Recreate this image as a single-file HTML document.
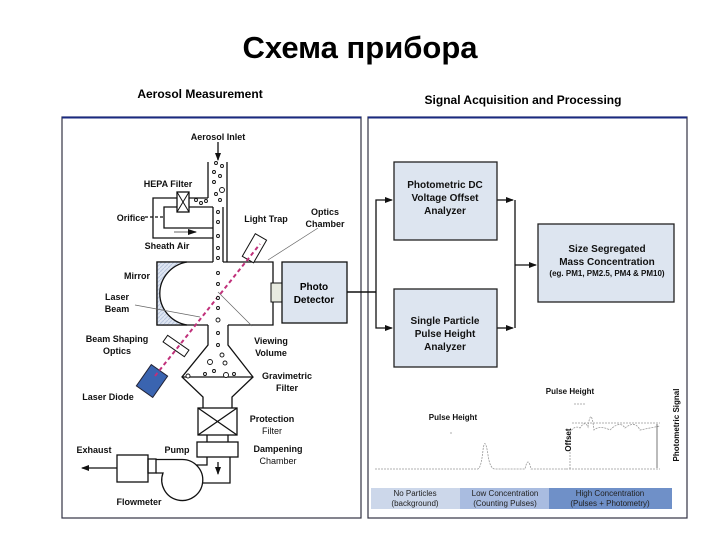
<!DOCTYPE html>
<html><head><meta charset="utf-8"><style>
body{margin:0;background:#fff}
svg{display:block;font-family:"Liberation Sans",Arial,sans-serif}
</style></head><body>
<svg width="720" height="540" viewBox="0 0 720 540" xmlns="http://www.w3.org/2000/svg">
<defs>
<marker id="ar" markerWidth="8" markerHeight="8" refX="7" refY="4" orient="auto" markerUnits="userSpaceOnUse"><path d="M0,1 L8,4 L0,7 z" fill="#111"/></marker>
<pattern id="hatch" width="4" height="4" patternUnits="userSpaceOnUse"><rect width="4" height="4" fill="#dfe6f2"/><path d="M0,4 L4,0" stroke="#b9c6de" stroke-width="1"/></pattern>
</defs>
<text x="360" y="58" font-size="31" font-weight="bold" text-anchor="middle" font-family="'Liberation Sans','DejaVu Sans',sans-serif">Схема прибора</text>
<text x="200" y="98" font-size="12" font-weight="bold" text-anchor="middle">Aerosol Measurement</text>
<text x="523" y="104" font-size="12" font-weight="bold" text-anchor="middle">Signal Acquisition and Processing</text>
<rect x="62" y="117" width="299" height="401" fill="none" stroke="#334" stroke-width="1.2"/>
<line x1="62" y1="117.5" x2="361" y2="117.5" stroke="#1a2a80" stroke-width="2"/>
<rect x="368" y="117" width="319" height="401" fill="none" stroke="#334" stroke-width="1.2"/>
<line x1="368" y1="117.5" x2="687" y2="117.5" stroke="#1a2a80" stroke-width="2"/>

<g fill="none" stroke="#111" stroke-width="1.3">
<line x1="208" y1="162" x2="208" y2="198"/><line x1="227" y1="162" x2="227" y2="262"/>
<line x1="213" y1="207" x2="213" y2="262"/>
<line x1="223" y1="207" x2="223" y2="262"/>
<polyline points="177,198 153,198 153,238 213,238"/>
<polyline points="177,207 164,207 164,228 213,228"/>
<line x1="189" y1="198" x2="208" y2="198"/><line x1="189" y1="207" x2="213" y2="207"/>
<line x1="145" y1="217" x2="164" y2="217" stroke-dasharray="3,2"/>
<polyline points="213,262 157,262 157,325 208,325"/>
<polyline points="223,262 273,262 273,325 228,325"/>
<polyline points="208,325 208,345 182,377 203,397 203,408"/>
<polyline points="228,325 228,345 253,377 232,397 232,408"/>
<line x1="182" y1="377" x2="253" y2="377"/>
<rect x="198" y="408" width="39" height="27"/>
<line x1="198" y1="408" x2="237" y2="435"/><line x1="237" y1="408" x2="198" y2="435"/>
<line x1="207" y1="435" x2="207" y2="442"/><line x1="228" y1="435" x2="228" y2="442"/>
<rect x="197" y="442" width="41" height="15"/>
<polyline points="207,457 207,465 196,465"/>
<polyline points="230,457 230,483 202,483"/>
<path d="M156,459.5 L182,459.5 A20.5,20.5 0 1 1 163,473 L156,473"/>
<rect x="117" y="455" width="31" height="27" fill="#fff"/>
<rect x="148" y="459" width="8" height="14"/>
</g>
<line x1="117" y1="468" x2="82" y2="468" stroke="#111" stroke-width="1.3" marker-end="url(#ar)"/>
<line x1="218" y1="462" x2="218" y2="474" stroke="#111" stroke-width="1.3" marker-end="url(#ar)"/>
<line x1="218" y1="142" x2="218" y2="160" stroke="#111" stroke-width="1.3" marker-end="url(#ar)"/>
<line x1="174" y1="232" x2="196" y2="232" stroke="#999" stroke-width="1.5"/>
<path d="M188,229 L197,232 L188,235z" fill="#111"/>
<rect x="177" y="192" width="12" height="20" fill="#fff" stroke="#111" stroke-width="1.3"/>
<path d="M177,192 L189,212 M189,192 L177,212" stroke="#111"/>
<path d="M157,262 L187,262 A33,32 0 0 0 187,325 L157,325 z" fill="url(#hatch)" stroke="#111" stroke-width="1.3"/>
<rect x="271" y="283" width="11" height="19" fill="#e8ebe0" stroke="#111"/>
<rect x="282" y="262" width="65" height="61" fill="#dde5f0" stroke="#111" stroke-width="1.3"/>
<text x="314" y="290" font-size="10" font-weight="bold" text-anchor="middle">Photo</text>
<text x="314" y="303" font-size="10" font-weight="bold" text-anchor="middle">Detector</text>
<line x1="347" y1="292" x2="376" y2="292" stroke="#111" stroke-width="1.5"/>
<rect x="241" y="242" width="26" height="13" fill="#fff" stroke="#111" transform="rotate(-60 254 248)"/>
<rect x="163" y="342" width="26" height="8" fill="#fff" stroke="#111" transform="rotate(35 176 346)"/>
<rect x="142" y="368" width="20" height="26" fill="#3a64b0" stroke="#223" transform="rotate(35 152 381)"/>
<line x1="155" y1="376" x2="260" y2="244" stroke="#c0307a" stroke-width="2" stroke-dasharray="4,3"/>
<g stroke="#666" stroke-width="0.7">
<line x1="135" y1="305" x2="200" y2="317"/>
<line x1="218" y1="292" x2="252" y2="326"/>
<line x1="268" y1="260" x2="318" y2="228"/>
</g>
<g fill="#fff" stroke="#111" stroke-width="0.9">
<circle cx="216" cy="163" r="1.5"/><circle cx="222" cy="166" r="1.5"/><circle cx="214" cy="172" r="1.5"/><circle cx="220" cy="176" r="1.5"/>
<circle cx="214" cy="182" r="1.5"/><circle cx="222" cy="190" r="2.5"/><circle cx="216" cy="194" r="1.5"/><circle cx="220" cy="200" r="1.5"/>
<circle cx="196" cy="200" r="1.5"/><circle cx="201" cy="203" r="1.5"/><circle cx="206" cy="201" r="1.5"/>
<circle cx="218" cy="212" r="1.5"/><circle cx="218" cy="222" r="1.5"/><circle cx="218" cy="236" r="1.5"/><circle cx="218" cy="248" r="1.5"/>
<circle cx="218" cy="258" r="1.5"/><circle cx="218" cy="273" r="1.5"/><circle cx="218" cy="284" r="1.5"/><circle cx="218" cy="298" r="1.5"/>
<circle cx="218" cy="308" r="1.5"/><circle cx="218" cy="320" r="2"/><circle cx="218" cy="333" r="1.5"/><circle cx="218" cy="345" r="1.5"/>
<circle cx="222" cy="355" r="2"/><circle cx="210" cy="362" r="2.5"/><circle cx="225" cy="363" r="2"/><circle cx="214" cy="371" r="1.5"/>
<circle cx="188" cy="376" r="2"/><circle cx="205" cy="374" r="1.5"/><circle cx="226" cy="375" r="2.5"/><circle cx="234" cy="374" r="1.5"/>
</g>
<g font-size="9" font-weight="bold" fill="#111">
<text x="218" y="140" text-anchor="middle">Aerosol Inlet</text>
<text x="168" y="187" text-anchor="middle">HEPA Filter</text>
<text x="131" y="221" text-anchor="middle">Orifice</text>
<text x="167" y="249" text-anchor="middle">Sheath Air</text>
<text x="266" y="222" text-anchor="middle">Light Trap</text>
<text x="325" y="215" text-anchor="middle">Optics</text>
<text x="325" y="227" text-anchor="middle">Chamber</text>
<text x="137" y="279" text-anchor="middle">Mirror</text>
<text x="117" y="300" text-anchor="middle">Laser</text>
<text x="117" y="312" text-anchor="middle">Beam</text>
<text x="117" y="342" text-anchor="middle">Beam Shaping</text>
<text x="117" y="354" text-anchor="middle">Optics</text>
<text x="271" y="344" text-anchor="middle">Viewing</text>
<text x="271" y="356" text-anchor="middle">Volume</text>
<text x="108" y="400" text-anchor="middle">Laser Diode</text>
<text x="287" y="379" text-anchor="middle">Gravimetric</text>
<text x="287" y="391" text-anchor="middle">Filter</text>
<text x="272" y="422" text-anchor="middle">Protection</text>
<text x="272" y="434" text-anchor="middle" font-weight="normal">Filter</text>
<text x="278" y="452" text-anchor="middle">Dampening</text>
<text x="278" y="464" text-anchor="middle" font-weight="normal">Chamber</text>
<text x="94" y="453" text-anchor="middle">Exhaust</text>
<text x="177" y="453" text-anchor="middle">Pump</text>
<text x="139" y="505" text-anchor="middle">Flowmeter</text>
</g>

<g stroke="#111" stroke-width="1.3" fill="none">
<polyline points="376,292 376,200 392,200" marker-end="url(#ar)"/>
<polyline points="376,292 376,328 392,328" marker-end="url(#ar)"/>
<line x1="497" y1="200" x2="513" y2="200" marker-end="url(#ar)"/>
<line x1="497" y1="328" x2="513" y2="328" marker-end="url(#ar)"/>
<line x1="515" y1="200" x2="515" y2="328"/>
<line x1="515" y1="265" x2="536" y2="265" marker-end="url(#ar)"/>
</g>
<g fill="#dde5f0" stroke="#222" stroke-width="1.3">
<rect x="394" y="162" width="103" height="78"/>
<rect x="394" y="289" width="103" height="78"/>
<rect x="538" y="224" width="136" height="78"/>
</g>
<g font-size="10" font-weight="bold" text-anchor="middle" fill="#111">
<text x="445" y="188">Photometric DC</text>
<text x="445" y="201">Voltage Offset</text>
<text x="445" y="214">Analyzer</text>
<text x="445" y="324">Single Particle</text>
<text x="445" y="337">Pulse Height</text>
<text x="445" y="350">Analyzer</text>
<text x="607" y="252">Size Segregated</text>
<text x="607" y="265">Mass Concentration</text>
<text x="607" y="276" font-size="8">(eg. PM1, PM2.5, PM4 &amp; PM10)</text>
</g>
<g stroke="#999" stroke-width="0.8" fill="none" stroke-dasharray="2,1">
<path d="M375,469 L477,469 Q481,470 483,450 Q485,435 488,455 Q490,469 495,469 L525,469 Q528,455 531,469 L566,469"/>
<path d="M570,469 L570,432 Q575,425 580,428 Q585,420 588,427 Q591,405 594,430 Q600,425 610,430 Q620,420 625,428 Q635,420 640,430 L660,426"/>
<line x1="572" y1="423" x2="660" y2="423"/>
<line x1="566" y1="469" x2="660" y2="469"/>
<line x1="574" y1="404" x2="585" y2="404"/>
<line x1="450" y1="433" x2="452" y2="433"/>
</g>
<line x1="657" y1="424" x2="657" y2="468" stroke="#555" stroke-width="0.8"/>
<g font-size="8" font-weight="bold" fill="#111">
<text x="453" y="420" text-anchor="middle">Pulse Height</text>
<text x="570" y="394" text-anchor="middle">Pulse Height</text>
<text transform="translate(571,440) rotate(-90)" text-anchor="middle">Offset</text>
<text transform="translate(679,425) rotate(-90)" text-anchor="middle">Photometric Signal</text>
</g>
<rect x="371" y="488" width="89" height="21" fill="#ccd7ea"/>
<rect x="460" y="488" width="89" height="21" fill="#a9bce0"/>
<rect x="549" y="488" width="123" height="21" fill="#6f90c8"/>
<g font-size="8" text-anchor="middle" fill="#222">
<text x="415" y="496">No Particles</text><text x="415" y="506">(background)</text>
<text x="505" y="496">Low Concentration</text><text x="505" y="506">(Counting Pulses)</text>
<text x="610" y="496">High Concentration</text><text x="610" y="506">(Pulses + Photometry)</text>
</g>
</svg>
</body></html>
